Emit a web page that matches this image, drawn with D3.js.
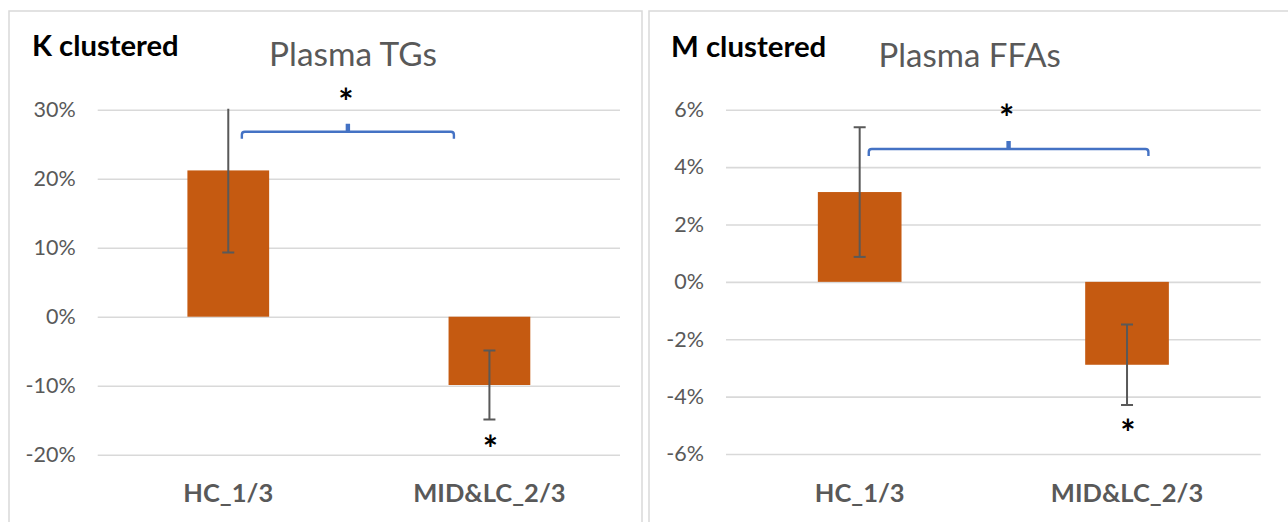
<!DOCTYPE html>
<html>
<head>
<meta charset="utf-8">
<script src="https://cdn.jsdelivr.net/npm/d3@7"></script>
<style>
  html, body { margin: 0; padding: 0; background: #fff; }
  svg { display: block; }
  text { font-family: Lato, "Open Sans", sans-serif; }
</style>
</head>
<body>
<svg id="chart" width="1288" height="522"></svg>
<script>
// Shared categories
const categories = ["HC_1/3", "MID&LC_2/3"];

// Plasma TGs (percent change), K clustered
const tgMeans = [21.2, -9.9];
const tgErrors = [11.9, 5.0];
const tgTicks = [-20, -10, 0, 10, 20, 30];

// Plasma FFAs (percent change), M clustered
const ffaMeans = [3.13, -2.89];
const ffaErrors = [2.26, 1.40];
const ffaTicks = [-6, -4, -2, 0, 2, 4, 6];

// Significance marks: bracket height (value units) and star positions
const tgBracketLevel = 26.8;
const tgStarTop = 32.1;
const tgStarBelow = -18.2;
const ffaBracketLevel = 4.63;
const ffaStarTop = 5.97;
const ffaStarBelow = -5.02;

const panels = [
  {
    tag: "K clustered", title: "Plasma TGs",
    means: tgMeans, errors: tgErrors, ticks: tgTicks,
    bracket: tgBracketLevel, starTop: tgStarTop, starBelow: tgStarBelow,
    frame: { x: 9, y: 11, w: 633, h: 530 },
    plot: { x0: 97.7, x1: 620, y0: 109.7, y1: 454.7 },
    tagPos: { x: 32, y: 56, size: 29.2 }, titlePos: { x: 353, y: 65.5, size: 33.4 },
    bracketEnds: [0.276, 0.682]
  },
  {
    tag: "M clustered", title: "Plasma FFAs",
    means: ffaMeans, errors: ffaErrors, ticks: ffaTicks,
    bracket: ffaBracketLevel, starTop: ffaStarTop, starBelow: ffaStarBelow,
    frame: { x: 649, y: 11, w: 660, h: 530 },
    plot: { x0: 726, x1: 1260.7, y0: 109.7, y1: 454 },
    tagPos: { x: 671, y: 57, size: 29.4 }, titlePos: { x: 969.7, y: 66.5, size: 33 },
    bracketEnds: [0.267, 0.790]
  }
];

const svg = d3.select("#chart");
const grey = "#595959";

panels.forEach((p, i) => {
  const g = svg.append("g");

  // chart frame
  g.append("rect")
    .attr("x", p.frame.x).attr("y", p.frame.y)
    .attr("width", p.frame.w).attr("height", p.frame.h)
    .attr("fill", "#fff").attr("stroke", "#d9d9d9").attr("stroke-width", 1.5);

  const x = d3.scaleBand().domain(categories).range([p.plot.x0, p.plot.x1]).padding(0);
  const y = d3.scaleLinear()
    .domain([d3.min(p.ticks), d3.max(p.ticks)])
    .range([p.plot.y1, p.plot.y0]);

  // y axis with full-width gridlines
  const axis = d3.axisLeft(y)
    .tickValues(p.ticks)
    .tickSize(-(p.plot.x1 - p.plot.x0))
    .tickPadding(22)
    .tickFormat(d => d + "%");

  const ax = g.append("g")
    .attr("transform", `translate(${p.plot.x0},0)`)
    .call(axis);
  ax.select(".domain").remove();
  ax.selectAll(".tick line").attr("stroke", "#d9d9d9").attr("stroke-width", 1.6);
  ax.selectAll(".tick text")
    .attr("fill", grey).attr("font-size", 21.5).style("font-family", "Lato, sans-serif");

  const clipId = "clip" + i;
  g.append("clipPath").attr("id", clipId)
    .append("rect")
    .attr("x", p.plot.x0).attr("y", p.plot.y0 - 1)
    .attr("width", p.plot.x1 - p.plot.x0).attr("height", p.plot.y1 - p.plot.y0 + 2);

  const plotG = g.append("g").attr("clip-path", `url(#${clipId})`);

  const barW = x.bandwidth() * 0.313;
  const cx = c => x(c) + x.bandwidth() / 2;

  // bars
  plotG.selectAll("rect.bar")
    .data(categories)
    .join("rect")
    .attr("class", "bar")
    .attr("x", c => cx(c) - barW / 2)
    .attr("width", barW)
    .attr("y", (c, k) => y(Math.max(0, p.means[k])))
    .attr("height", (c, k) => Math.abs(y(p.means[k]) - y(0)))
    .attr("fill", "#c55a11");

  // error bars
  const capW = 12;
  const eb = plotG.selectAll("g.err")
    .data(categories)
    .join("g").attr("class", "err")
    .attr("stroke", grey).attr("stroke-width", 2);
  eb.append("line")
    .attr("x1", c => cx(c)).attr("x2", c => cx(c))
    .attr("y1", (c, k) => y(p.means[k] + p.errors[k]))
    .attr("y2", (c, k) => y(p.means[k] - p.errors[k]));
  eb.append("line")
    .attr("x1", c => cx(c) - capW / 2).attr("x2", c => cx(c) + capW / 2)
    .attr("y1", (c, k) => y(p.means[k] + p.errors[k]))
    .attr("y2", (c, k) => y(p.means[k] + p.errors[k]));
  eb.append("line")
    .attr("x1", c => cx(c) - capW / 2).attr("x2", c => cx(c) + capW / 2)
    .attr("y1", (c, k) => y(p.means[k] - p.errors[k]))
    .attr("y2", (c, k) => y(p.means[k] - p.errors[k]));

  // category labels
  g.selectAll("text.cat")
    .data(categories)
    .join("text").attr("class", "cat")
    .attr("x", c => cx(c))
    .attr("y", 502.3)
    .attr("text-anchor", "middle")
    .attr("fill", grey)
    .attr("font-size", 25.5).attr("font-weight", 700)
    .text(c => c);

  // comparison bracket between the two groups
  const bx0 = p.plot.x0 + (p.plot.x1 - p.plot.x0) * p.bracketEnds[0];
  const bx1 = p.plot.x0 + (p.plot.x1 - p.plot.x0) * p.bracketEnds[1];
  const by = y(p.bracket);
  const bm = (bx0 + bx1) / 2;
  const r = 3;
  const path = d3.path();
  path.moveTo(bx0, by + 7);
  path.lineTo(bx0, by + r);
  path.quadraticCurveTo(bx0, by, bx0 + r, by);
  path.lineTo(bm - 1, by);
  path.lineTo(bm - 1, by - 8);
  path.moveTo(bm + 1, by - 8);
  path.lineTo(bm + 1, by);
  path.moveTo(bm - 1, by);
  path.lineTo(bx1 - r, by);
  path.quadraticCurveTo(bx1, by, bx1, by + r);
  path.lineTo(bx1, by + 7);
  g.append("path")
    .attr("d", path.toString())
    .attr("fill", "none").attr("stroke", "#4472c4").attr("stroke-width", 2.4);

  // significance stars
  const starSize = 36;
  const starShift = starSize * 0.56;
  g.append("text")
    .attr("x", bm - 2).attr("y", y(p.starTop) + starShift)
    .attr("text-anchor", "middle").attr("font-size", starSize).attr("font-weight", 700)
    .attr("fill", "#000").text("*");
  g.append("text")
    .attr("x", cx(categories[1]) + 1).attr("y", y(p.starBelow) + starShift)
    .attr("text-anchor", "middle").attr("font-size", starSize).attr("font-weight", 700)
    .attr("fill", "#000").text("*");

  // panel tag and chart title
  g.append("text")
    .attr("x", p.tagPos.x).attr("y", p.tagPos.y)
    .attr("font-size", p.tagPos.size).attr("font-weight", 700).attr("fill", "#000")
    .text(p.tag);
  g.append("text")
    .attr("x", p.titlePos.x).attr("y", p.titlePos.y)
    .attr("text-anchor", "middle")
    .attr("font-size", p.titlePos.size).attr("fill", grey)
    .text(p.title);
});
</script>
</body>
</html>
